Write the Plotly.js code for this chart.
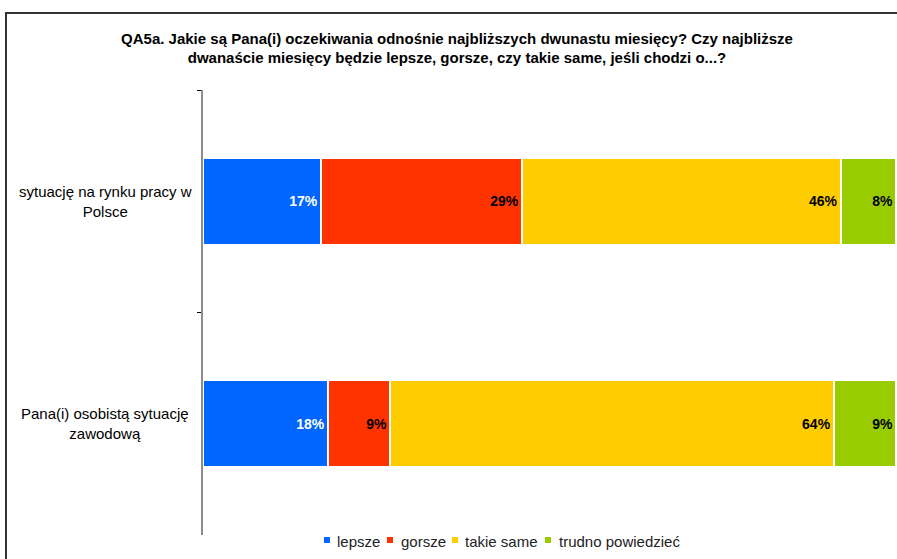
<!DOCTYPE html>
<html>
<head>
<meta charset="utf-8">
<script src="https://cdn.plot.ly/plotly-3.0.1.min.js"></script>
<style>html,body{margin:0;padding:0;background:#fff}#chart{width:897px;height:559px}</style>
</head>
<body>
<div id="chart"></div>
<script>
const categories = ["sytuację na rynku pracy w<br>Polsce", "Pana(i) osobistą sytuację<br>zawodową"];
const seriesNames = ["lepsze", "gorsze", "takie same", "trudno powiedzieć"];
const lepsze = [17, 18];
const gorsze = [29, 9];
const takieSame = [46, 64];
const trudno = [8, 9];
const seriesValues = [lepsze, gorsze, takieSame, trudno];
const seriesColors = ["#0066FF", "#FF3300", "#FFCC00", "#99CC00"];
const labelColors = ["#FFFFFF", "#000000", "#000000", "#000000"];
const titleText = "QA5a. Jakie są Pana(i) oczekiwania odnośnie najbliższych dwunastu miesięcy? Czy najbliższe<br>dwanaście miesięcy będzie lepsze, gorsze, czy takie same, jeśli chodzi o...?";

const font = "Liberation Sans, Arial, sans-serif";

// plot-area geometry in pixels (used to convert to paper coords)
const PL = 203, PR = 896, PT = 90, PB = 535;
const px2x = p => (p - PL) / (PR - PL);
const px2y = p => (PB - p) / (PB - PT);

const traces = seriesValues.map((vals, i) => ({
  type: "bar",
  orientation: "h",
  name: seriesNames[i],
  y: categories,
  x: vals,
  text: vals.map(v => v + "%"),
  textposition: "inside",
  insidetextanchor: "end",
  constraintext: "none",
  textfont: {family: font, size: 14, color: labelColors[i], weight: "bold"},
  marker: {color: seriesColors[i], line: {color: "#FFFFFF", width: 2}},
  hoverinfo: "x+name"
}));

// custom legend (compact, like the reference)
const legendTextX = [335, 399, 463, 557];
const legendMarkX = [327, 390, 455, 548];
const legendY = 541;

const legendAnnotations = seriesNames.map((n, i) => ({
  text: n,
  xref: "paper", x: px2x(legendTextX[i]), xanchor: "left",
  yref: "paper", y: px2y(legendY), yanchor: "middle",
  showarrow: false,
  font: {family: font, size: 15, color: "#222"}
}));
const legendShapes = seriesColors.map((c, i) => ({
  type: "rect", xref: "paper", yref: "paper",
  x0: px2x(legendMarkX[i] - 3), x1: px2x(legendMarkX[i] + 3),
  y0: px2y(legendY + 2), y1: px2y(legendY - 4),
  line: {width: 0}, fillcolor: c
}));

const layout = {
  width: 897,
  height: 559,
  barmode: "stack",
  bargap: 0.61,
  margin: {l: PL, r: 897 - PR, t: PT, b: 559 - PB, autoexpand: false},
  paper_bgcolor: "#FFFFFF",
  plot_bgcolor: "#FFFFFF",
  font: {family: font, size: 15, color: "#000"},
  title: {
    text: "<b>" + titleText + "</b>",
    font: {family: font, size: 15, color: "#000"},
    x: 0.5095, xref: "container", xanchor: "center",
    y: 0.922, yref: "container", yanchor: "top"
  },
  xaxis: {
    range: [0, 100],
    showgrid: false, zeroline: false, showline: false,
    showticklabels: false, ticks: "", fixedrange: true
  },
  yaxis: {
    type: "category",
    categoryorder: "array",
    categoryarray: categories,
    autorange: "reversed",
    showgrid: false, zeroline: false,
    showline: true, linecolor: "#8c8c8c", linewidth: 2,
    ticks: "outside", tickson: "boundaries", ticklen: 4, tickcolor: "#000", tickwidth: 1,
    showticklabels: false
  },
  showlegend: false,
  annotations: categories.map(c => ({
    text: c,
    xref: "paper", x: px2x(105), xanchor: "center",
    yref: "y", y: c, yanchor: "middle",
    align: "center",
    showarrow: false,
    font: {family: font, size: 15, color: "#000"}
  })).concat(legendAnnotations),
  shapes: [{
    type: "rect", xref: "paper", yref: "paper",
    x0: px2x(6), x1: px2x(930), y0: px2y(600), y1: px2y(13),
    line: {color: "#333333", width: 2}, fillcolor: "rgba(0,0,0,0)", layer: "below"
  }].concat(legendShapes)
};

Plotly.newPlot("chart", traces, layout, {displayModeBar: false, staticPlot: true});
</script>
</body>
</html>
